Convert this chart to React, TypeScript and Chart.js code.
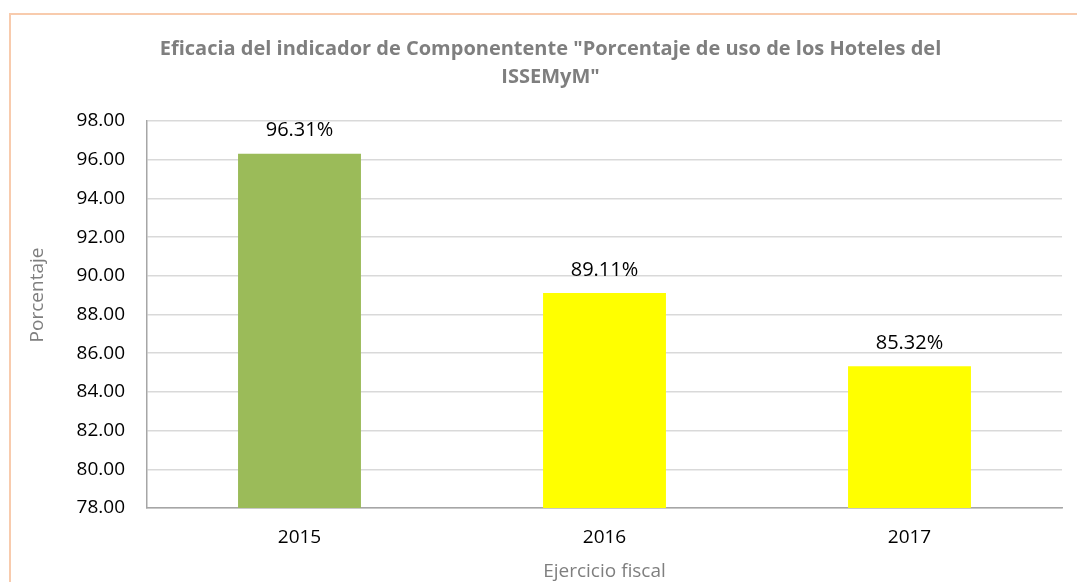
import React, { useEffect, useRef } from "react";
import { Chart, registerables } from "chart.js";

Chart.register(...registerables);

const categories = ["2015", "2016", "2017"];
const values = [96.31, 89.11, 85.32];
const barColors = ["#9BBB59", "#FFFF00", "#FFFF00"];
const yMin = 78;
const yMax = 98;
const yStep = 2;
const titleLines = [
  'Eficacia del indicador de Componentente "Porcentaje de uso de los Hoteles del',
  'ISSEMyM"',
];
const yTitle = "Porcentaje";
const xTitle = "Ejercicio fiscal";

const FONT = "'Open Sans', 'Noto Sans', sans-serif";

const dataLabels = {
  id: "dataLabels",
  afterDatasetsDraw(chart: any) {
    const ctx = chart.ctx;
    const meta = chart.getDatasetMeta(0);
    ctx.save();
    ctx.font = `20px ${FONT}`;
    ctx.fillStyle = "#000000";
    ctx.textAlign = "center";
    ctx.textBaseline = "middle";
    meta.data.forEach((bar: any, i: number) => {
      ctx.fillText(values[i].toFixed(2) + "%", bar.x, bar.y - 23);
    });
    // y-axis title
    ctx.translate(27, 280);
    ctx.rotate(-Math.PI / 2);
    ctx.font = `19px ${FONT}`;
    ctx.fillStyle = "#7f7f7f";
    ctx.fillText(yTitle, 0, 0);
    ctx.restore();
  },
};

export default function App() {
  const ref = useRef<HTMLCanvasElement | null>(null);
  useEffect(() => {
    if (!ref.current) return;
    const chart = new Chart(ref.current, {
      type: "bar",
      data: {
        labels: categories,
        datasets: [
          {
            data: values,
            backgroundColor: barColors,
            borderWidth: 0,
            categoryPercentage: 1,
            barPercentage: 0.403,
          },
        ],
      },
      options: {
        animation: false,
        responsive: true,
        maintainAspectRatio: false,
        layout: { padding: { left: 28, right: 15, top: 0, bottom: 0 } },
        plugins: {
          legend: { display: false },
          tooltip: { enabled: false },
          title: {
            display: true,
            text: titleLines,
            color: "#7f7f7f",
            font: { family: FONT, size: 20, weight: "bold", lineHeight: 1.4 },
            padding: { top: 20, bottom: 30 },
          },
        },
        scales: {
          x: {
            grid: { display: false, drawTicks: false },
            border: { display: true, color: "#a6a6a6", width: 1.5 },
            ticks: { color: "#000000", font: { family: FONT, size: 19 }, padding: 18 },
            title: {
              display: true,
              text: xTitle,
              color: "#7f7f7f",
              font: { family: FONT, size: 19 },
              padding: { top: 0, bottom: -1 },
            },
            afterFit: (s: any) => {
              s.height = 74;
            },
          },
          y: {
            min: yMin,
            max: yMax,
            grid: { color: "#d9d9d9", lineWidth: 1.5, drawTicks: false },
            border: { display: true, color: "#a6a6a6", width: 1.5 },
            ticks: {
              stepSize: yStep,
              color: "#000000",
              font: { family: FONT, size: 19 },
              padding: 22,
              callback: (v: any) => Number(v).toFixed(2),
            },
            title: { display: false },
            afterFit: (s: any) => {
              s.width = 108;
            },
          },
        },
      } as any,
      plugins: [dataLabels],
    });
    return () => chart.destroy();
  }, []);

  return (
    <div
      style={{
        position: "fixed",
        left: 9,
        top: 13,
        width: 1068,
        height: 569,
        borderTop: "2px solid #F8CBAD",
        borderLeft: "2px solid #F8CBAD",
        boxSizing: "border-box",
        background: "#ffffff",
      }}
    >
      <div style={{ position: "relative", width: 1066, height: 567 }}>
        <canvas ref={ref} />
      </div>
    </div>
  );
}
